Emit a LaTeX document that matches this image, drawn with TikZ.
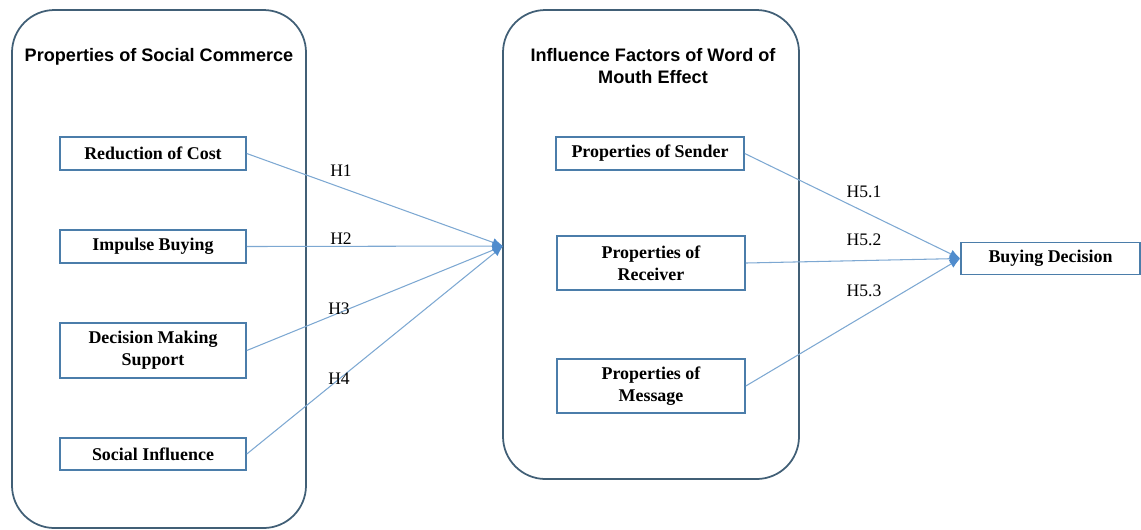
\documentclass[tikz,border=0pt]{standalone}
\usepackage{fontspec}
\setmainfont{Liberation Serif}
\newfontfamily\titlefont{Liberation Sans}
\usetikzlibrary{arrows.meta}
\definecolor{linecol}{RGB}{125,168,210}
\definecolor{tipcol}{RGB}{80,140,205}
\definecolor{boxcol}{RGB}{75,125,170}
\definecolor{groupcol}{RGB}{65,95,118}
\tikzset{
    group/.style={draw=groupcol, line width=1pt, rounded corners=0.85cm},
    grouptitle/.style={align=center, font=\titlefont\fontsize{10.3}{12}\selectfont\bfseries},
    factor/.style={draw=boxcol, line width=0.9pt, fill=white, inner sep=0pt, minimum width=3.72cm,
        minimum height=0.66cm, align=center, font=\fontsize{10.2}{12.5}\selectfont\bfseries},
    link/.style={linecol, line width=0.6pt, -{Latex[length=6pt, width=5pt, color=tipcol]}},
    hyp/.style={inner sep=1pt, font=\fontsize{10}{12}\selectfont}
}
\begin{document}
\begin{tikzpicture}[x=0.02cm, y=-0.02cm]
    \useasboundingbox (0, 0) rectangle (1141, 529);
    \draw[group] (12, 10) rectangle (306, 528);
    \draw[group] (503, 10) rectangle (799, 479);
    \node[grouptitle] (socialtitle) at (159, 57) {Properties of Social Commerce};
    \node[grouptitle] (wordtitle) at (653, 66) {Influence Factors of Word of\\Mouth Effect};

    \node[factor] (cost) at (153, 153.5) {Reduction of Cost};
    \node[factor] (impulse) at (153, 246.5) {Impulse Buying};
    \node[factor, minimum height=1.1cm] (support) at (153, 350.5) {Decision Making\\Support};
    \node[factor, minimum height=0.64cm] (influence) at (153, 454) {Social Influence};

    \node[factor, minimum width=3.76cm] (sender) at (650, 153.5) {Properties of Sender};
    \node[factor, minimum width=3.76cm, minimum height=1.08cm] (receiver) at (651, 263) {Properties of\\Receiver};
    \node[factor, minimum width=3.76cm, minimum height=1.08cm] (message) at (651, 386) {Properties of\\Message};

    \node[factor, minimum width=3.58cm, minimum height=0.64cm] (decision) at (1050.5, 258.5) {Buying Decision};

    \coordinate (hub) at (503, 246);
    \draw[link] (cost.east) -- (hub);
    \draw[link] (impulse.east) -- (hub);
    \draw[link] (support.east) -- (hub);
    \draw[link] (influence.east) -- (hub);
    \draw[link] (sender.east) -- (decision.west);
    \draw[link] (receiver.east) -- (decision.west);
    \draw[link] (message.east) -- (decision.west);

    \node[hyp] (h1) at (341, 171) {H1};
    \node[hyp] (h2) at (341, 239) {H2};
    \node[hyp] (h3) at (339, 309) {H3};
    \node[hyp] (h4) at (339, 379) {H4};
    \node[hyp] (h51) at (864, 192) {H5.1};
    \node[hyp] (h52) at (864, 240) {H5.2};
    \node[hyp] (h53) at (864, 291) {H5.3};
\end{tikzpicture}
\end{document}
